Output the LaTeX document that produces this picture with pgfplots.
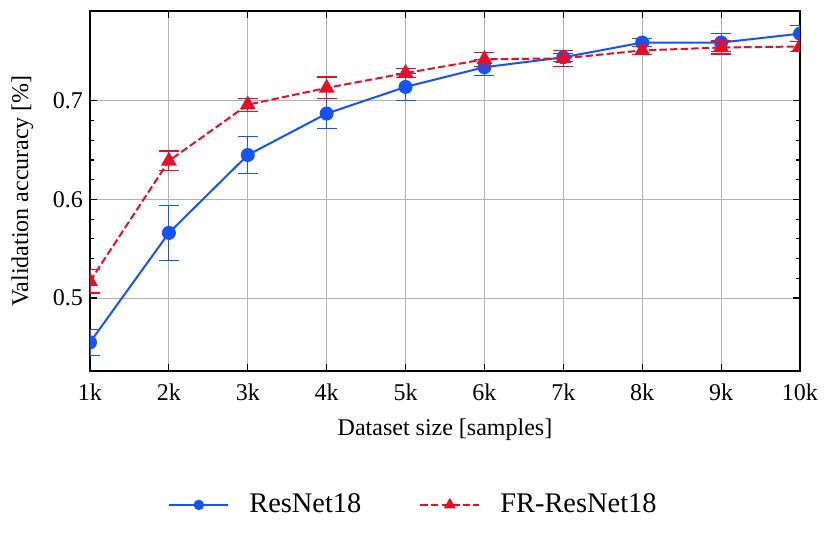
\documentclass[border=0pt]{standalone}
\usepackage{pgfplots}
\pgfplotsset{compat=1.18}
\usepackage{pgfplotstable}
\usepackage{fontspec}
\setmainfont{Liberation Serif}
\definecolor{cblue}{RGB}{24,82,250}
\definecolor{cred}{RGB}{228,16,40}
\pgfplotstableread{
x y e
1 0.455 0.013
2 0.566 0.028
3 0.645 0.019
4 0.687 0.015
5 0.714 0.014
6 0.734 0.008
7 0.744 0.004
8 0.759 0.004
9 0.759 0.009
10 0.768 0.008
}\blue
\pgfplotstableread{
x y e
1 0.517 0.012
2 0.639 0.010
3 0.696 0.0066
4 0.713 0.011
5 0.728 0.0045
6 0.742 0.0073
7 0.743 0.008
8 0.751 0.004
9 0.754 0.0065
10 0.755 0.005
}\red
\begin{document}
\begin{tikzpicture}
\useasboundingbox (-45pt,-87.5pt) rectangle (370.5pt,185.5pt);
\begin{axis}[
  at={(0,0)}, anchor=south west,
  scale only axis, width=355pt, height=180pt,
  xmin=1, xmax=10, ymin=0.426, ymax=0.791,
  xtick={1,...,10},
  xticklabels={1k,2k,3k,4k,5k,6k,7k,8k,9k,10k},
  ytick={0.5,0.6,0.7},
  yticklabels={0.5,0.6,0.7},
  minor y tick num=4,
  tick align=inside,
  xtick pos=both, ytick pos=both,
  major tick length=3.5pt, minor tick length=2pt,
  tick style={black, line width=0.6pt},
  axis line style={line width=1pt},
  grid=major,
  major grid style={gray!60, line width=0.5pt},
  tick label style={font=\fontsize{12}{14}\selectfont},
  label style={font=\fontsize{12}{14}\selectfont},
  xticklabel shift=3pt,
  xlabel shift=2pt,
  ylabel shift=3pt,
  clip marker paths=true,
  xlabel={Dataset size [samples]},
  ylabel={Validation accuracy [\%]},
  legend columns=2,
  legend style={at={(0.457,-0.372)}, anchor=center, draw=none, fill=none,
    font=\fontsize{14.2}{17}\selectfont,
    /tikz/every even column/.append style={column sep=27pt}},
  legend image code/.code={\draw[mark repeat=2,mark phase=2,#1,/tikz/every mark/.append style={scale=0.7}] plot coordinates {(0pt,0pt) (14.75pt,0pt) (29.5pt,0pt)}; \path (37.5pt,0pt);},
]
\addplot+[cblue, solid, line width=1pt, mark=*, mark size=3pt, mark options={solid, fill=cblue, draw=cblue},
  error bars/.cd, y dir=both, y explicit,
  error bar style={line width=0.6pt, solid, cblue},
  error mark options={rotate=90, mark size=5pt, line width=0.6pt, cblue}]
  table[x=x, y=y, y error=e] {\blue};
\addlegendentry{ResNet18}
\addplot+[cred, dashed, dash pattern=on 3.7pt off 1.6pt, line width=1pt, mark=triangle*, mark size=3.6pt, mark options={solid, fill=cred, draw=cred},
  error bars/.cd, y dir=both, y explicit,
  error bar style={line width=0.6pt, solid, cred},
  error mark options={rotate=90, mark size=5pt, line width=0.6pt, cred}]
  table[x=x, y=y, y error=e] {\red};
\addlegendentry{FR-ResNet18}
\end{axis}
\end{tikzpicture}
\end{document}
